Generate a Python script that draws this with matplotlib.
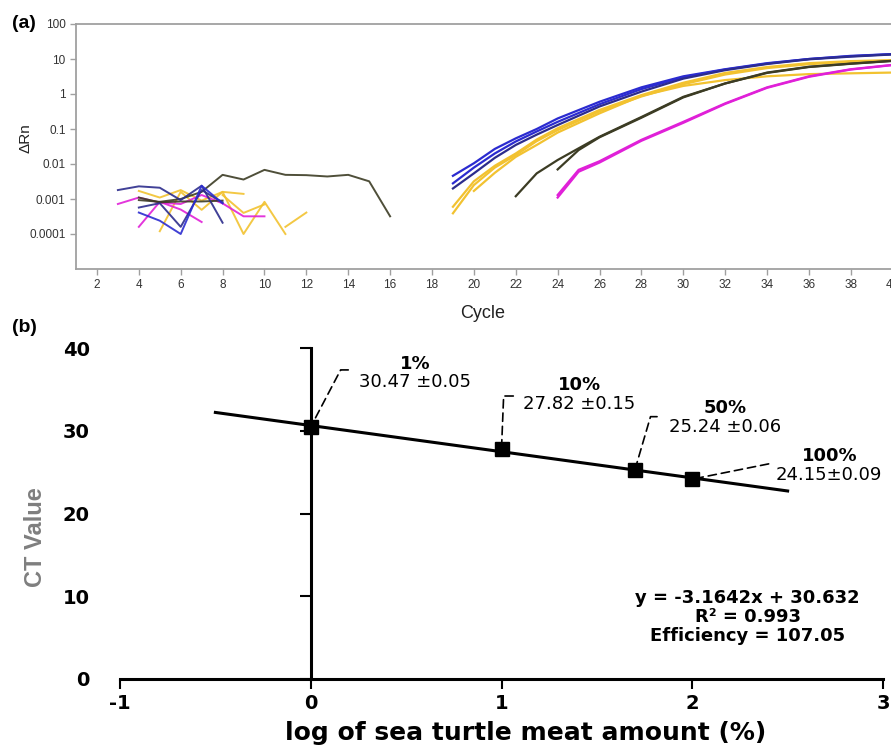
import math
import matplotlib.pyplot as plt
from matplotlib import font_manager

plt.rcParams['axes.unicode_minus'] = False

# ---- (a) amplification plot: cycle numbers and delta Rn values ----
BLUE = '#2b2bd0'
NAVY = '#2c2c8c'
GOLD = '#f2c230'
OLIVE = '#3c3c24'
MAGENTA = '#e020d8'

# background noise before the threshold
olive_noise_c = [4, 5, 6, 7, 8, 9, 10, 11, 12, 13, 14, 15, 16]
olive_noise_v = [0.00093, 0.00083, 0.001, 0.0016, 0.0049, 0.0036, 0.0068,
                 0.0049, 0.0048, 0.0044, 0.0049, 0.0032, 0.00032]
olive_noise2_c = [4, 5, 6, 7, 8]
olive_noise2_v = [0.0011, 0.0008, 0.00085, 0.00085, 0.0009]
navy_noise_c = [3, 4, 5, 6, 7, 8]
navy_noise_v = [0.0018, 0.0023, 0.0021, 0.00093, 0.0024, 0.00021]
blue_noise_c = [4, 5, 6, 7, 8]
blue_noise_v = [0.00041, 0.00024, 0.0001, 0.0024, 0.00075]
navy_noise2_c = [4, 5, 6, 7, 8]
navy_noise2_v = [0.00057, 0.00076, 0.00016, 0.0018, 0.0008]
magenta_noise_c = [3, 4, 5, 6, 7, 8, 9, 10]
magenta_noise_v = [0.00072, 0.0011, 0.00079, 0.00072, 0.0013, 0.00075, 0.00032, 0.00032]
magenta_noise2_c = [4, 5, 6, 7]
magenta_noise2_v = [0.00016, 0.00083, 0.0005, 0.00022]
gold_noise_c = [4, 5, 6, 7, 8, 9]
gold_noise_v = [0.0017, 0.0011, 0.0018, 0.0009, 0.0016, 0.0014]
gold_noise2_c = [5, 6, 7, 8, 9, 10, 11]
gold_noise2_v = [0.00012, 0.0016, 0.00049, 0.0016, 0.0001, 0.00083, 0.0001]
gold_noise3_c = [11, 12]
gold_noise3_v = [0.00016, 0.00041]
gold_noise4_c = [8, 9, 10]
gold_noise4_v = [0.0013, 0.0004, 0.0007]

# amplification curves
blue_c = [19, 20, 21, 22, 23, 24, 26, 28, 30, 32, 34, 36, 38, 40]
blue1_v = [0.0046, 0.0105, 0.027, 0.054, 0.1, 0.2, 0.6, 1.55, 3.2, 5.1, 7.6, 10, 12.3, 13.8]
blue2_v = [0.0028, 0.0079, 0.02, 0.044, 0.085, 0.16, 0.51, 1.38, 3.0, 5.0, 7.4, 10, 12, 13.8]
blue3_v = [0.002, 0.0054, 0.015, 0.035, 0.069, 0.13, 0.44, 1.17, 2.75, 4.8, 7.2, 9.8, 11.7, 13.5]
gold_c = [19, 20, 21, 22, 23, 24, 26, 28, 30, 32, 34, 36, 38, 40]
gold1_v = [0.0006, 0.0032, 0.0089, 0.02, 0.05, 0.105, 0.35, 0.93, 2.1, 4.0, 5.9, 7.6, 8.7, 9.3]
gold2_v = [0.00039, 0.0025, 0.0079, 0.018, 0.045, 0.093, 0.32, 0.85, 1.9, 3.6, 5.5, 7.1, 8.3, 8.9]
gold3_c = [20, 21, 22, 23, 24, 26, 28, 30, 32, 34, 36, 38, 40]
gold3_v = [0.0017, 0.0056, 0.016, 0.035, 0.079, 0.28, 0.89, 1.7, 2.5, 3.2, 3.7, 3.9, 4.1]
olive1_c = [22, 23, 24, 25, 26, 28, 30, 32, 34, 36, 38, 40]
olive1_v = [0.0012, 0.0054, 0.013, 0.028, 0.06, 0.22, 0.83, 2.0, 4.1, 6.0, 7.4, 8.9]
olive2_c = [24, 25, 26, 28, 30, 32, 34, 36, 38, 40]
olive2_v = [0.007, 0.025, 0.058, 0.21, 0.8, 2.0, 4.0, 5.9, 7.3, 8.8]
magenta_c = [24, 25, 26, 28, 30, 32, 34, 36, 38, 40]
magenta1_v = [0.0013, 0.0068, 0.012, 0.049, 0.16, 0.54, 1.55, 3.2, 5.1, 6.8]
magenta2_v = [0.0011, 0.006, 0.011, 0.046, 0.15, 0.52, 1.5, 3.1, 5.0, 6.7]

cycle_ticks = list(range(2, 41, 2))
drn_ticks = [0.0001, 0.001, 0.01, 0.1, 1, 10, 100]
drn_tick_labels = ['0.0001', '0.001', '0.01', '0.1', '1', '10', '100']

# ---- (b) standard curve ----
log_amount = [0, 1, 1.69897, 2]
ct_mean = [30.47, 27.82, 25.24, 24.15]
pct_labels = ['1%', '10%', '50%', '100%']
value_labels = ['30.47 \u00b10.05', '27.82 \u00b10.15', '25.24 \u00b10.06', '24.15\u00b10.09']
slope, intercept = -3.1642, 30.632
fit_x = [-0.5, 2.5]
fit_y = [slope * x + intercept for x in fit_x]

# narrow font for panel (a) if there is one
names = {f.name for f in font_manager.fontManager.ttflist}
narrow = 'Liberation Sans Narrow' if 'Liberation Sans Narrow' in names else 'Liberation Sans'

fig = plt.figure(figsize=(8.91, 7.48), dpi=100)

# ---------------- panel (a) ----------------
axa = fig.add_axes([76 / 891, 1 - 269 / 748, 816.7 / 891, 245 / 748])
noise = [
    (gold_noise_c, gold_noise_v, GOLD), (gold_noise2_c, gold_noise2_v, GOLD),
    (gold_noise3_c, gold_noise3_v, GOLD), (gold_noise4_c, gold_noise4_v, GOLD),
    (magenta_noise_c, magenta_noise_v, MAGENTA), (magenta_noise2_c, magenta_noise2_v, MAGENTA),
    (olive_noise2_c, olive_noise2_v, OLIVE), (olive_noise_c, olive_noise_v, OLIVE),
    (navy_noise_c, navy_noise_v, NAVY), (navy_noise2_c, navy_noise2_v, NAVY),
    (blue_noise_c, blue_noise_v, BLUE),
]
for c, v, col in noise:
    axa.plot(c, v, color=col, lw=1.4, alpha=0.9)

curves = [
    (gold_c, gold1_v, GOLD), (gold_c, gold2_v, GOLD), (gold3_c, gold3_v, GOLD),
    (olive1_c, olive1_v, OLIVE), (olive2_c, olive2_v, OLIVE),
    (magenta_c, magenta1_v, MAGENTA), (magenta_c, magenta2_v, MAGENTA),
    (blue_c, blue1_v, BLUE), (blue_c, blue2_v, BLUE), (blue_c, blue3_v, NAVY),
]
for c, v, col in curves:
    axa.plot(c, v, color=col, lw=1.6)

axa.set_yscale('log')
axa.set_ylim(1e-5, 100)
axa.set_xlim(1, 40)
axa.set_xticks(cycle_ticks)
axa.set_yticks(drn_ticks)
axa.set_yticklabels(drn_tick_labels)
axa.minorticks_off()
for s in ['left', 'top', 'bottom']:
    axa.spines[s].set_color('#a0a0a0')
    axa.spines[s].set_linewidth(1.3)
axa.spines['right'].set_visible(False)
axa.tick_params(colors='#a0a0a0', labelcolor='#333333', length=4, width=1,
                labelsize=8.5)
for lbl in axa.get_xticklabels() + axa.get_yticklabels():
    lbl.set_family(narrow)
axa.set_ylabel('\u0394Rn', fontsize=11, family=narrow, color='#222222', va='center')
axa.yaxis.set_label_coords(-0.062, 0.535)
axa.set_xlabel('Cycle', fontsize=13, family=narrow, color='#222222', va='center')
axa.xaxis.set_label_coords(0.498, -0.18)
fig.text(12 / 891, 1 - 24 / 748, '(a)', fontsize=14, fontweight='bold',
         family='Liberation Sans', va='center', ha='left')

# ---------------- panel (b) ----------------
axb = fig.add_axes([120 / 891, 1 - 679 / 748, 763 / 891, 331 / 748])
axb.plot(fit_x, fit_y, color='black', lw=2.2, zorder=2)
axb.plot(log_amount, ct_mean, 's', color='black', ms=10, zorder=3)
axb.set_xlim(-1, 3)
axb.set_ylim(0, 40)
axb.set_xticks([-1, 0, 1, 2, 3])
axb.set_yticks([0, 10, 20, 30, 40])
for s in ['top', 'right']:
    axb.spines[s].set_visible(False)
axb.spines['left'].set_position(('data', 0))
axb.spines['left'].set_linewidth(2.2)
axb.spines['bottom'].set_linewidth(2.2)
# y tick labels sit at the far left while the axis line crosses at x = 0
fig.canvas.draw()
dist_px = axb.transData.transform((0, 0))[0] - axb.transAxes.transform((0, 0))[0]
axb.tick_params(axis='y', length=8, width=1.5, labelsize=14,
                pad=(dist_px + 27 - 8) * 72 / fig.dpi)
axb.tick_params(axis='x', length=7, width=1.5, labelsize=14, pad=4)
for lbl in axb.get_xticklabels() + axb.get_yticklabels():
    lbl.set_fontweight('bold')

axb.set_xlabel('log of sea turtle meat amount (%)', fontsize=18, fontweight='bold',
               va='center')
axb.xaxis.set_label_coords(0.532, -0.163)
axb.set_ylabel('CT Value', fontsize=17, fontweight='bold', family='Liberation Sans',
               color='#7f7f7f', va='center')
axb.yaxis.set_label_coords(-0.111, 0.429)

# data labels with dashed leader lines (offsets in points)
leader_offsets = [(21, 40), (1.5, 37), (11, 37.5), (55, 11)]
leader_dash = [6, 7, 5, 0]
pct_offsets = [(75, 45), (56, 46), (65, 45), (99, 17)]
value_offsets = [(75, 32), (56, 32), (65, 31), (98, 3)]
for i in range(len(log_amount)):
    pt = (log_amount[i], ct_mean[i])
    dx, dy = leader_offsets[i]
    if leader_dash[i]:
        ang = math.degrees(math.atan2(dy, dx))
        conn = f'angle,angleA=0,angleB={ang},rad=0'
        start = (dx + leader_dash[i], dy + 1)
    else:
        conn = 'arc3,rad=0'
        start = (dx, dy)
    axb.annotate('', xy=pt, xytext=start, textcoords='offset points',
                 arrowprops=dict(arrowstyle='-', lw=1.2, linestyle=(0, (5, 3)),
                                 shrinkA=0, shrinkB=0, connectionstyle=conn))
    axb.annotate(pct_labels[i], xy=pt, xytext=pct_offsets[i], textcoords='offset points',
                 ha='center', va='center', fontsize=13, fontweight='bold')
    axb.annotate(value_labels[i], xy=pt, xytext=value_offsets[i], textcoords='offset points',
                 ha='center', va='center', fontsize=13)

axb.text(2.29, 7.5, 'y = -3.1642x + 30.632\nR\u00b2 = 0.993\nEfficiency = 107.05',
         ha='center', va='center', multialignment='center', fontsize=13,
         fontweight='bold', linespacing=1.1)

fig.text(12 / 891, 1 - 328 / 748, '(b)', fontsize=14, fontweight='bold',
         family='Liberation Sans', va='center', ha='left')

fig.savefig('out.png', dpi=100)
